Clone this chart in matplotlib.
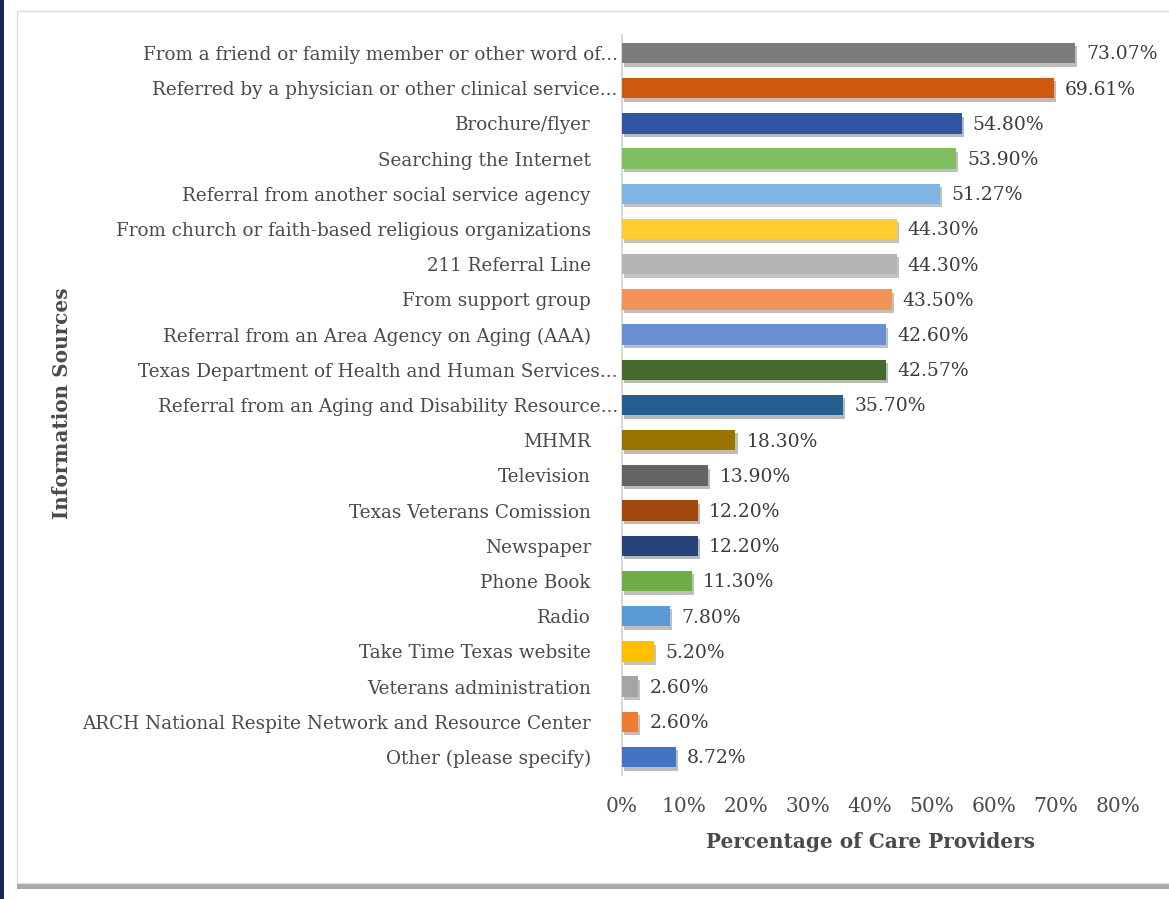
import matplotlib
matplotlib.use("Agg")
import matplotlib.pyplot as plt
import matplotlib.patheffects as pe
from matplotlib.patches import Rectangle
from matplotlib.transforms import ScaledTranslation

# data (top to bottom as in the chart)
sources = [
    "From a friend or family member or other word of...",
    "Referred by a physician or other clinical service...",
    "Brochure/flyer",
    "Searching the Internet",
    "Referral from another social service agency",
    "From church or faith-based religious organizations",
    "211 Referral Line",
    "From support group",
    "Referral from an Area Agency on Aging (AAA)",
    "Texas Department of Health and Human Services...",
    "Referral from an Aging and Disability Resource...",
    "MHMR",
    "Television",
    "Texas Veterans Comission",
    "Newspaper",
    "Phone Book",
    "Radio",
    "Take Time Texas website",
    "Veterans administration",
    "ARCH National Respite Network and Resource Center",
    "Other (please specify)",
]
pct = [73.07, 69.61, 54.80, 53.90, 51.27, 44.30, 44.30, 43.50, 42.60, 42.57,
       35.70, 18.30, 13.90, 12.20, 12.20, 11.30, 7.80, 5.20, 2.60, 2.60, 8.72]
colors = ["#7c7c7c", "#d0580f", "#2f55a0", "#80bf60", "#80b4e2", "#ffcd30",
          "#b5b5b5", "#f2935a", "#6a8fd3", "#456a2d", "#255e91", "#9a7400",
          "#646464", "#a1480f", "#27437a", "#70ad47", "#5b9bd5", "#ffc000",
          "#a5a5a5", "#ed7d31", "#4472c4"]
xticks = [0, 10, 20, 30, 40, 50, 60, 70, 80]

W, H = 1169, 899
fig = plt.figure(figsize=(W / 100, H / 100), dpi=100)
fig.patch.set_facecolor("white")

# navy strip + card background
fig.patches.append(Rectangle((0, 0), 4 / W, 1, transform=fig.transFigure,
                             facecolor="#1b2553", edgecolor="none", zorder=-2))
card = Rectangle((17 / W, 1 - 883 / H), 1.2, (883 - 11) / H, transform=fig.transFigure,
                 facecolor="white", edgecolor="#dcdcdc", linewidth=1, zorder=-2)
card.set_path_effects([pe.SimplePatchShadow(offset=(0, -4), shadow_rgbFace="#707070", alpha=0.6),
                       pe.Normal()])
fig.patches.append(card)

serif = "DejaVu Serif"
txt = "#3c3c3c"
grey = "#4a4a4a"

ax = fig.add_axes([622 / W, 1 - 774.6 / H, (1118 - 622) / W, (774.6 - 35.4) / H])
ax.set_facecolor("none")
y = list(range(len(sources)))
bars = ax.barh(y, pct, height=0.58, color=colors, zorder=3)
for b in bars:
    b.set_path_effects([pe.SimplePatchShadow(offset=(1.5, -2.5), alpha=0.3), pe.Normal()])

for yi, v in zip(y, pct):
    ax.annotate(f"{v:.2f}%", (v, yi), xytext=(8, -1), textcoords="offset points",
                ha="left", va="center", fontsize=13.5, family=serif, color=txt)

ax.set_ylim(len(sources) - 0.5, -0.5)
ax.set_xlim(0, 80)
ax.set_yticks(y)
ax.set_yticklabels(sources, family=serif, fontsize=13.2, color=grey)
ax.set_xticks(xticks)
ax.set_xticklabels([f"{t}%" for t in xticks], family=serif, fontsize=14.5, color=grey)
ax.tick_params(axis="y", length=0, pad=3)
ax.tick_params(axis="x", length=0, pad=16)

# labels without ellipsis sit a bit further from the axis
for lab in ax.get_yticklabels():
    if not lab.get_text().endswith("..."):
        lab.set_transform(lab.get_transform() + ScaledTranslation(-27 / 100, 0, fig.dpi_scale_trans))

for s in ["top", "right", "bottom"]:
    ax.spines[s].set_visible(False)
ax.spines["left"].set_color("#d9d9d9")
ax.spines["left"].set_linewidth(1.5)

ax.set_xlabel("Percentage of Care Providers", family=serif, fontsize=14.4,
              fontweight="bold", color=grey, labelpad=12)
fig.text(62 / W, 1 - 403 / H, "Information Sources", rotation=90, ha="center", va="center",
         family=serif, fontsize=14.4, fontweight="bold", color=grey)

fig.savefig("out.png", dpi=100)
